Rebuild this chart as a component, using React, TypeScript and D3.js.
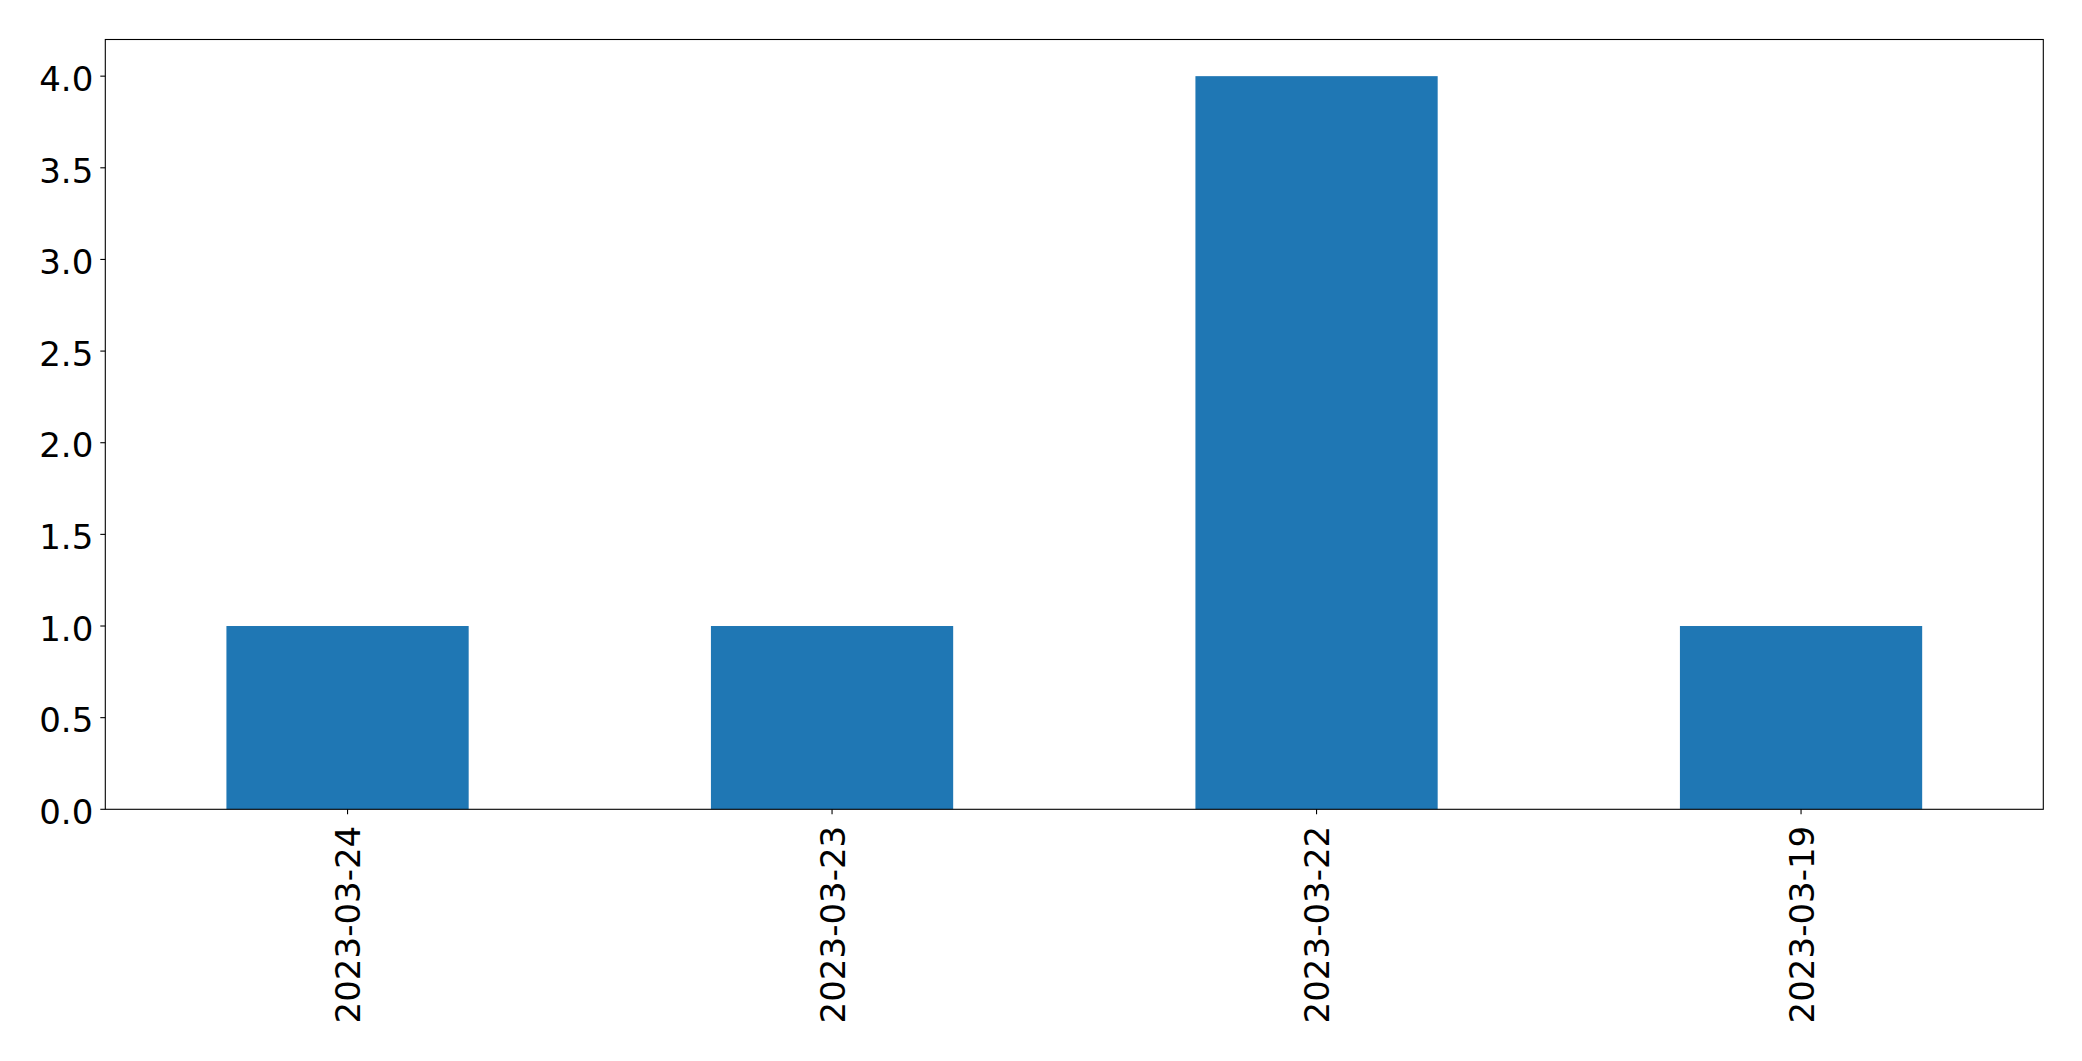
import React from "react";
import * as d3 from "d3";

const categories = ["2023-03-24", "2023-03-23", "2023-03-22", "2023-03-19"];
const values = [1, 1, 4, 1];
const yTicks = [0, 0.5, 1, 1.5, 2, 2.5, 3, 3.5, 4];

const W = 2082;
const H = 1061;
const left = 105.3;
const right = 2043.3;
const top = 39.5;
const bottom = 809.3;
const FONT = "'DejaVu Sans', sans-serif";
const FS = 34;

export default function App() {
  const x = d3
    .scaleLinear()
    .domain([-0.5, categories.length - 0.5])
    .range([left, right]);
  const y = d3.scaleLinear().domain([0, 4.2]).range([bottom, top]);
  const bw = 0.5;

  return (
    <svg
      width={W}
      height={H}
      style={{ position: "absolute", left: 0, top: 0, background: "#fff" }}
    >
      <rect x={0} y={0} width={W} height={H} fill="#fff" />
      {values.map((v, i) => (
        <rect
          key={i}
          x={x(i - bw / 2)}
          y={y(v)}
          width={x(i + bw / 2) - x(i - bw / 2)}
          height={y(0) - y(v)}
          fill="#1f77b4"
        />
      ))}
      <rect
        x={left}
        y={top}
        width={right - left}
        height={bottom - top}
        fill="none"
        stroke="#000"
        strokeWidth={1.1}
      />
      {yTicks.map((t) => (
        <g key={t}>
          <line x1={left - 5} x2={left} y1={y(t)} y2={y(t)} stroke="#000" strokeWidth={1.1} />
          <text
            x={left - 12}
            y={y(t) + 14.7}
            textAnchor="end"
            fontFamily={FONT}
            fontSize={FS}
            fill="#000"
          >
            {t.toFixed(1)}
          </text>
        </g>
      ))}
      {categories.map((c, i) => (
        <g key={c}>
          <line x1={x(i)} x2={x(i)} y1={bottom} y2={bottom + 5} stroke="#000" strokeWidth={1.1} />
          <text
            transform={`translate(${x(i) + 12.5},${bottom + 16.5}) rotate(-90)`}
            textAnchor="end"
            fontFamily={FONT}
            fontSize={FS}
            fill="#000"
          >
            {c}
          </text>
        </g>
      ))}
    </svg>
  );
}
